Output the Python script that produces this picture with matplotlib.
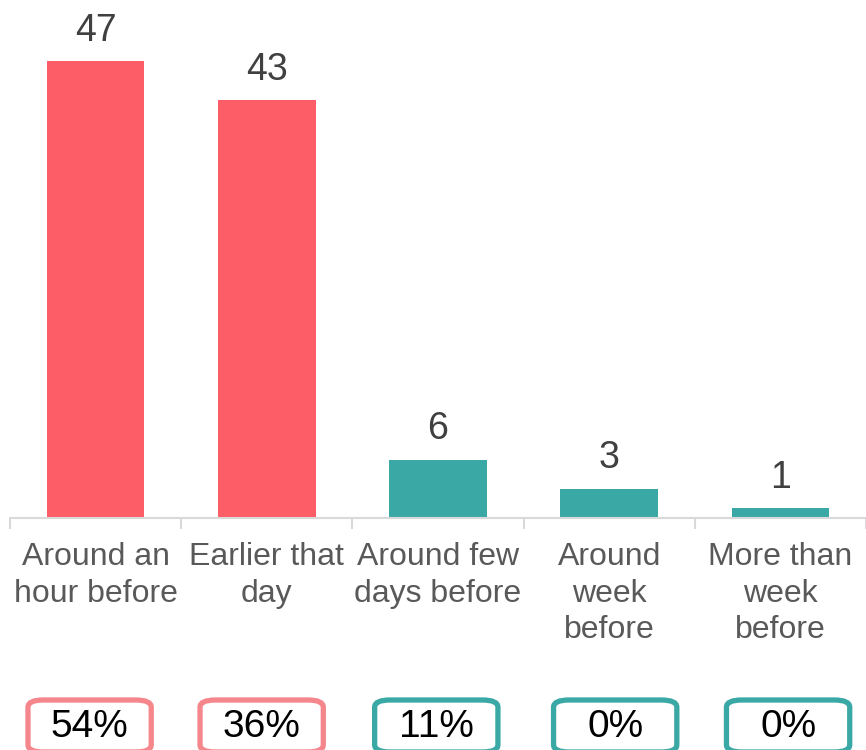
import numpy as np
import matplotlib.pyplot as plt
from matplotlib.patches import FancyBboxPatch
from matplotlib.transforms import blended_transform_factory

plt.rcParams['font.family'] = ['Liberation Sans', 'DejaVu Sans']

categories = ['Around an\nhour before', 'Earlier that\nday', 'Around few\ndays before',
              'Around\nweek\nbefore', 'More than\nweek\nbefore']
counts = [47, 43, 6, 3, 1]
shares = ['54%', '36%', '11%', '0%', '0%']
groups = ['recent', 'recent', 'early', 'early', 'early']

bar_colors = {'recent': '#fd5d67', 'early': '#3aa8a5'}
box_colors = {'recent': '#f4868c', 'early': '#3aa8a5'}

fig = plt.figure(figsize=(8.66, 7.5), dpi=100)
ax = fig.add_axes([10 / 866, 232 / 750, 856 / 866, 518 / 750])

x = np.arange(len(categories))
bars = ax.bar(x, counts, width=0.57, color=[bar_colors[g] for g in groups])

for xi, c in zip(x, counts):
    ax.annotate(str(c), (xi, c), xytext=(0, 9), textcoords='offset points',
                ha='center', va='bottom', fontsize=27, color='#404040')

ax.set_xlim(-0.5, len(categories) - 0.5)
ax.set_ylim(0, 53.3)
ax.set_yticks([])
for side in ['left', 'right', 'top']:
    ax.spines[side].set_visible(False)
ax.spines['bottom'].set_color('#d9d9d9')
ax.spines['bottom'].set_linewidth(1.5)

ax.set_xticks(x)
ax.set_xticklabels(categories, fontsize=23, color='#595959', linespacing=1.3)
ax.tick_params(axis='x', which='major', length=0, pad=17)
ax.set_xticks(np.arange(-0.5, len(categories)), minor=True)
ax.tick_params(axis='x', which='minor', length=8, width=1.5, color='#d9d9d9')

# share boxes below the category labels
trans = blended_transform_factory(ax.transData, fig.transFigure)
box_w = 0.72
box_h = 52 / 750
box_y = 1 - 752 / 750
box_shift = [-0.035, -0.03, -0.01, 0.035, 0.045]
for xi, dx, s, g in zip(x, box_shift, shares, groups):
    patch = FancyBboxPatch((xi + dx - box_w / 2, box_y), box_w, box_h,
                           boxstyle='round,pad=0,rounding_size=0.09',
                           mutation_aspect=(box_h / box_w) * 1.1,
                           transform=trans, facecolor='white',
                           edgecolor=box_colors[g], linewidth=3.8, clip_on=False)
    fig.add_artist(patch)
    t = fig.text(0, 1 - 727 / 750, s, transform=trans, ha='center', va='center',
                 fontsize=28, color='black')
    t.set_x(xi + dx)

fig.savefig('out.png', dpi=100)
